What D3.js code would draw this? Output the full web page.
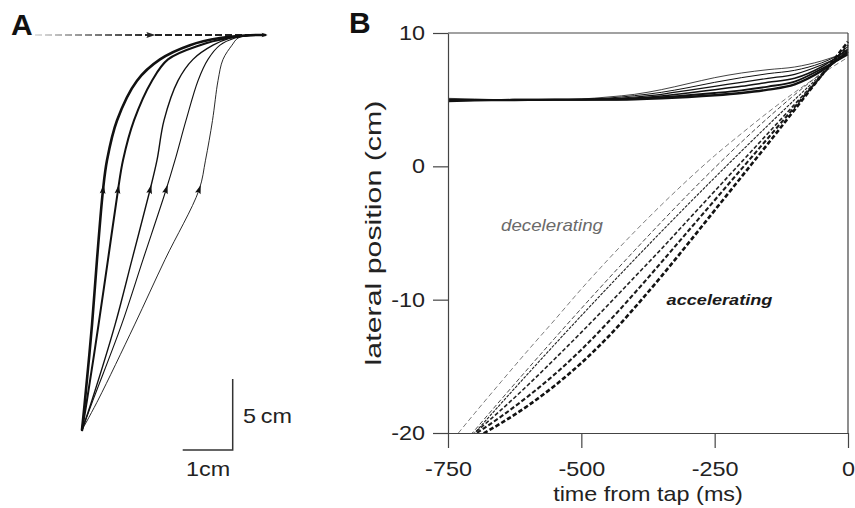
<!DOCTYPE html>
<html><head><meta charset="utf-8">
<script src="https://cdn.jsdelivr.net/npm/d3@7"></script>
<style>
body{margin:0;background:#fff}
svg{display:block}
text{font-family:"Liberation Sans",Arial,Helvetica,sans-serif}
</style></head>
<body><svg id="c" width="855" height="508"></svg>
<script>
// ---------- DATA ----------
// Panel B: time grid (ms from tap)
const times = [-750,-700,-650,-600,-550,-500,-450,-400,-350,-300,-250,-200,-150,-100,-50,0];
// solid lines (thin -> thick)
const solid1 = [5.1,5.05,5.0,5.0,5.0,5.05,5.2,5.4,5.75,6.2,6.65,7.0,7.25,7.45,7.9,8.6];
const solid2 = [5.05,5.0,5.0,5.0,5.0,5.03,5.12,5.3,5.55,5.9,6.3,6.65,6.95,7.2,7.75,8.7];
const solid3 = [5.0,5.0,5.0,5.0,5.0,5.0,5.07,5.2,5.4,5.7,6.0,6.3,6.6,6.9,7.6,8.5];
const solid4 = [4.95,4.97,5.0,5.0,5.0,5.0,5.03,5.12,5.28,5.5,5.75,6.0,6.3,6.6,7.45,8.8];
const solid5 = [4.95,4.97,4.98,5.0,5.0,5.0,5.0,5.07,5.18,5.33,5.5,5.7,5.98,6.35,7.3,8.4];
const solid6 = [4.9,4.95,4.97,4.98,5.0,5.0,5.0,5.03,5.1,5.2,5.33,5.5,5.75,6.15,7.15,8.6];
// dashed lines (decelerating/thin -> accelerating/thick)
const dash1 = [-20.95,-18.52,-16.14,-13.8,-11.52,-9.2,-7.0,-4.9,-2.9,-1.0,0.8,2.45,4.05,5.55,6.92,8.18];
const dash2 = [-22.15,-19.8,-17.47,-15.17,-12.9,-10.66,-8.46,-6.3,-4.18,-2.11,-0.11,1.81,3.64,5.37,6.99,8.49];
const dash3 = [-22.25,-20.0,-17.76,-15.55,-13.36,-11.2,-9.07,-6.97,-4.9,-2.86,-0.85,1.13,3.08,5.0,6.89,8.75];
const dash4 = [-21.7,-20.0,-18.25,-16.4,-14.45,-12.45,-10.4,-8.3,-6.2,-4.03,-1.86,0.31,2.48,4.65,6.82,8.99];
const dash5 = [-21.3,-20.1,-18.75,-17.25,-15.6,-13.75,-11.7,-9.5,-7.2,-4.87,-2.54,-0.21,2.12,4.45,6.78,9.11];
const dash6 = [-21.5,-20.4,-19.25,-17.95,-16.45,-14.75,-12.8,-10.6,-8.25,-5.8,-3.3,-0.8,1.7,4.25,6.8,9.35];
const xTicks = [-750,-500,-250,0];
const yTicks = [10,0,-10,-20];
const xLabel = "time from tap (ms)";
const yLabel = "lateral position (cm)";

// Panel A: forward position (cm) and lateral position (cm) per path
const fwdA  = [0,2.1,7.4,12.0,16.9,19.0,21.8,24.6,26.1,27.1,27.6,27.8,27.82];
const latA1 = [0,0.06,0.20,0.30,0.42,0.50,0.70,1.10,1.56,2.16,2.76,3.36,3.66];
const latA2 = [0,0.10,0.33,0.52,0.72,0.82,1.04,1.40,1.72,2.36,2.92,3.36,3.66];
const latA3 = [0,0.20,0.66,1.00,1.36,1.50,1.64,1.92,2.22,2.62,2.96,3.36,3.66];
const latA4 = [0,0.22,0.79,1.22,1.68,1.86,2.08,2.32,2.52,2.76,3.06,3.36,3.66];
const latA5 = [0,0.32,1.05,1.66,2.34,2.47,2.61,2.72,2.82,3.00,3.12,3.36,3.66];
const arrowFwd = 16.9;
const targetLat = [-0.94, 3.66];
const targetFwd = 27.82;
const targetArrowLat = 1.36;
const scaleBar = {lat:1, fwd:5};

// ---------- SETUP ----------
const SX = 1.17;
const svg = d3.select("#c");
const defs = svg.append("defs");

function stext(x, y, str, size, opts={}) {
  const t = svg.append("text")
    .attr("transform", `translate(${x},${y}) scale(${opts.sx||SX},1)`)
    .attr("font-size", size)
    .attr("text-anchor", opts.anchor||"start")
    .attr("fill", opts.fill||"#222")
    .text(str);
  if (opts.weight) t.attr("font-weight", opts.weight);
  if (opts.style) t.attr("font-style", opts.style);
  return t;
}

// ---------- PANEL B ----------
const xB = d3.scaleLinear().domain([-750,0]).range([448,848]);
const yB = d3.scaleLinear().domain([-20,10]).range([433,33]);

defs.append("clipPath").attr("id","clipB").append("rect")
  .attr("x",xB(-750)).attr("y",yB(10)).attr("width",xB(0)-xB(-750)+3).attr("height",yB(-20)-yB(10));

const lineB = d3.line().x((d,i)=>xB(times[i])).y(d=>yB(d)).curve(d3.curveMonotoneX);

const dashSeries = [
  {v:dash1, w:0.7, da:"5,3",   c:"#444"},
  {v:dash2, w:0.9, da:"4.5,2.5", c:"#333"},
  {v:dash3, w:1.1, da:"3,1.2", c:"#222"},
  {v:dash4, w:1.6, da:"4,2.2", c:"#222"},
  {v:dash5, w:2.1, da:"4.5,2.3", c:"#1a1a1a"},
  {v:dash6, w:2.6, da:"4.5,2.3", c:"#111"}
];
const solidSeries = [
  {v:solid1, w:0.8}, {v:solid2, w:1.0}, {v:solid3, w:1.2},
  {v:solid4, w:1.5}, {v:solid5, w:1.9}, {v:solid6, w:2.3}
];
const gL = svg.append("g").attr("clip-path","url(#clipB)");
gL.selectAll("path.d").data(dashSeries).join("path").attr("class","d")
  .attr("d", s=>lineB(s.v)).attr("fill","none").attr("stroke",s=>s.c)
  .attr("stroke-width",s=>s.w).attr("stroke-dasharray",s=>s.da);
gL.selectAll("path.s").data(solidSeries).join("path").attr("class","s")
  .attr("d", s=>lineB(s.v)).attr("fill","none").attr("stroke","#111")
  .attr("stroke-width",s=>s.w);

// frame
svg.append("line").attr("x1",xB(-750)).attr("x2",xB(0)).attr("y1",yB(10)).attr("y2",yB(10))
  .attr("stroke","#444").attr("stroke-width",1.2);
svg.append("line").attr("x1",xB(0)).attr("x2",xB(0)).attr("y1",yB(10)).attr("y2",yB(-20))
  .attr("stroke","#444").attr("stroke-width",1.2);

const gx = svg.append("g").attr("transform",`translate(0,${yB(-20)})`)
  .call(d3.axisBottom(xB).tickValues(xTicks).tickSize(15).tickSizeOuter(0).tickPadding(14).tickFormat(d=>String(d)));
const gy = svg.append("g").attr("transform",`translate(${xB(-750)},0)`)
  .call(d3.axisLeft(yB).tickValues(yTicks).tickSize(15).tickSizeOuter(0).tickPadding(8).tickFormat(d=>String(d)));
[gx,gy].forEach(g=>{
  g.select(".domain").attr("stroke","#444").attr("stroke-width",1.2);
  g.selectAll(".tick line").attr("stroke","#444").attr("stroke-width",1.2);
  g.selectAll(".tick text").attr("font-size",20).attr("fill","#222")
    .attr("font-family",'"Liberation Sans",Arial,sans-serif');
});
gx.selectAll(".tick text").attr("transform",`scale(${SX},1)`);
gy.selectAll(".tick text").attr("x",0).attr("transform",`translate(-23,0) scale(${SX},1)`);

stext((xB(-750)+xB(0))/2, 501, xLabel, 20, {anchor:"middle"});
svg.append("text")
  .attr("transform",`translate(381,${(yB(10)+yB(-20))/2}) rotate(-90) scale(1.38,1)`)
  .attr("font-size",22).attr("text-anchor","middle").attr("fill","#222").text(yLabel);

stext(552, 231, "decelerating", 16, {anchor:"middle", style:"italic", fill:"#6a6a6a"});
stext(719.5, 304.5, "accelerating", 15.5, {anchor:"middle", style:"italic", weight:"bold", fill:"#1a1a1a"});

// ---------- PANEL A ----------
const xA = d3.scaleLinear().domain([0,1]).range([82,132]);
const yA = d3.scaleLinear().domain([0,5]).range([430,359]);

const grad = defs.append("linearGradient").attr("id","tg").attr("gradientUnits","userSpaceOnUse")
  .attr("x1",xA(targetLat[0])).attr("x2",xA(targetArrowLat)).attr("y1",0).attr("y2",0);
grad.append("stop").attr("offset",0).attr("stop-color","#e2e2e2");
grad.append("stop").attr("offset",1).attr("stop-color","#222");
svg.append("line").attr("x1",xA(targetLat[0])).attr("x2",xA(targetLat[1]))
  .attr("y1",yA(targetFwd)).attr("y2",yA(targetFwd))
  .attr("stroke","url(#tg)").attr("stroke-width",2).attr("stroke-dasharray","7,3");
function tri(x,y,ang,len,hw,fill){
  const ca=Math.cos(ang), sa=Math.sin(ang);
  const tip=[x+ca*len*0.6, y+sa*len*0.6];
  const b=[x-ca*len*0.4, y-sa*len*0.4];
  const p1=[b[0]-sa*hw, b[1]+ca*hw], p2=[b[0]+sa*hw, b[1]-ca*hw];
  svg.append("path").attr("d",`M${tip}L${p1}L${b[0]+ca*1.5},${b[1]+sa*1.5}L${p2}Z`).attr("fill",fill||"#111");
}
tri(xA(targetArrowLat), yA(targetFwd), 0, 9, 3.0, "#222");
tri(xA(targetLat[1])-1, yA(targetFwd), 0, 6, 2.2, "#111");

const pathsA = [
  {v:latA1, w:2.6}, {v:latA2, w:2.0}, {v:latA3, w:1.4}, {v:latA4, w:1.1}, {v:latA5, w:0.9}
];
const lineA = d3.line().x(d=>xA(d[0])).y(d=>yA(d[1])).curve(d3.curveCatmullRom.alpha(0.5));
pathsA.forEach(p=>{
  const pts = p.v.map((l,i)=>[l,fwdA[i]]);
  const el = svg.append("path").attr("d",lineA(pts)).attr("fill","none")
    .attr("stroke","#111").attr("stroke-width",p.w).attr("stroke-linecap","round");
  const node = el.node(), L = node.getTotalLength(), ty = yA(arrowFwd);
  let lo=0, hi=L*0.8;
  for(let k=0;k<40;k++){ const m=(lo+hi)/2; if(node.getPointAtLength(m).y>ty) lo=m; else hi=m; }
  const P = node.getPointAtLength(lo), Q = node.getPointAtLength(lo+4), R = node.getPointAtLength(Math.max(0,lo-4));
  tri(P.x, P.y, Math.atan2(Q.y-R.y, Q.x-R.x), 9, 2.9, "#111");
});

// scale bar
const sbx = 232.7, sby = 450;
const sbW = xA(scaleBar.lat)-xA(0), sbH = yA(0)-yA(scaleBar.fwd);
svg.append("path").attr("d",`M${sbx-sbW},${sby}H${sbx}V${sby-sbH}`)
  .attr("fill","none").attr("stroke","#333").attr("stroke-width",1.5);
stext(243, 423, "5\u2009cm", 20);
stext(186, 476, "1cm", 20);

// panel letters
stext(11, 35, "A", 30, {weight:"bold", sx:1, fill:"#111"});
stext(349, 33, "B", 30, {weight:"bold", sx:1, fill:"#111"});
</script></body></html>
